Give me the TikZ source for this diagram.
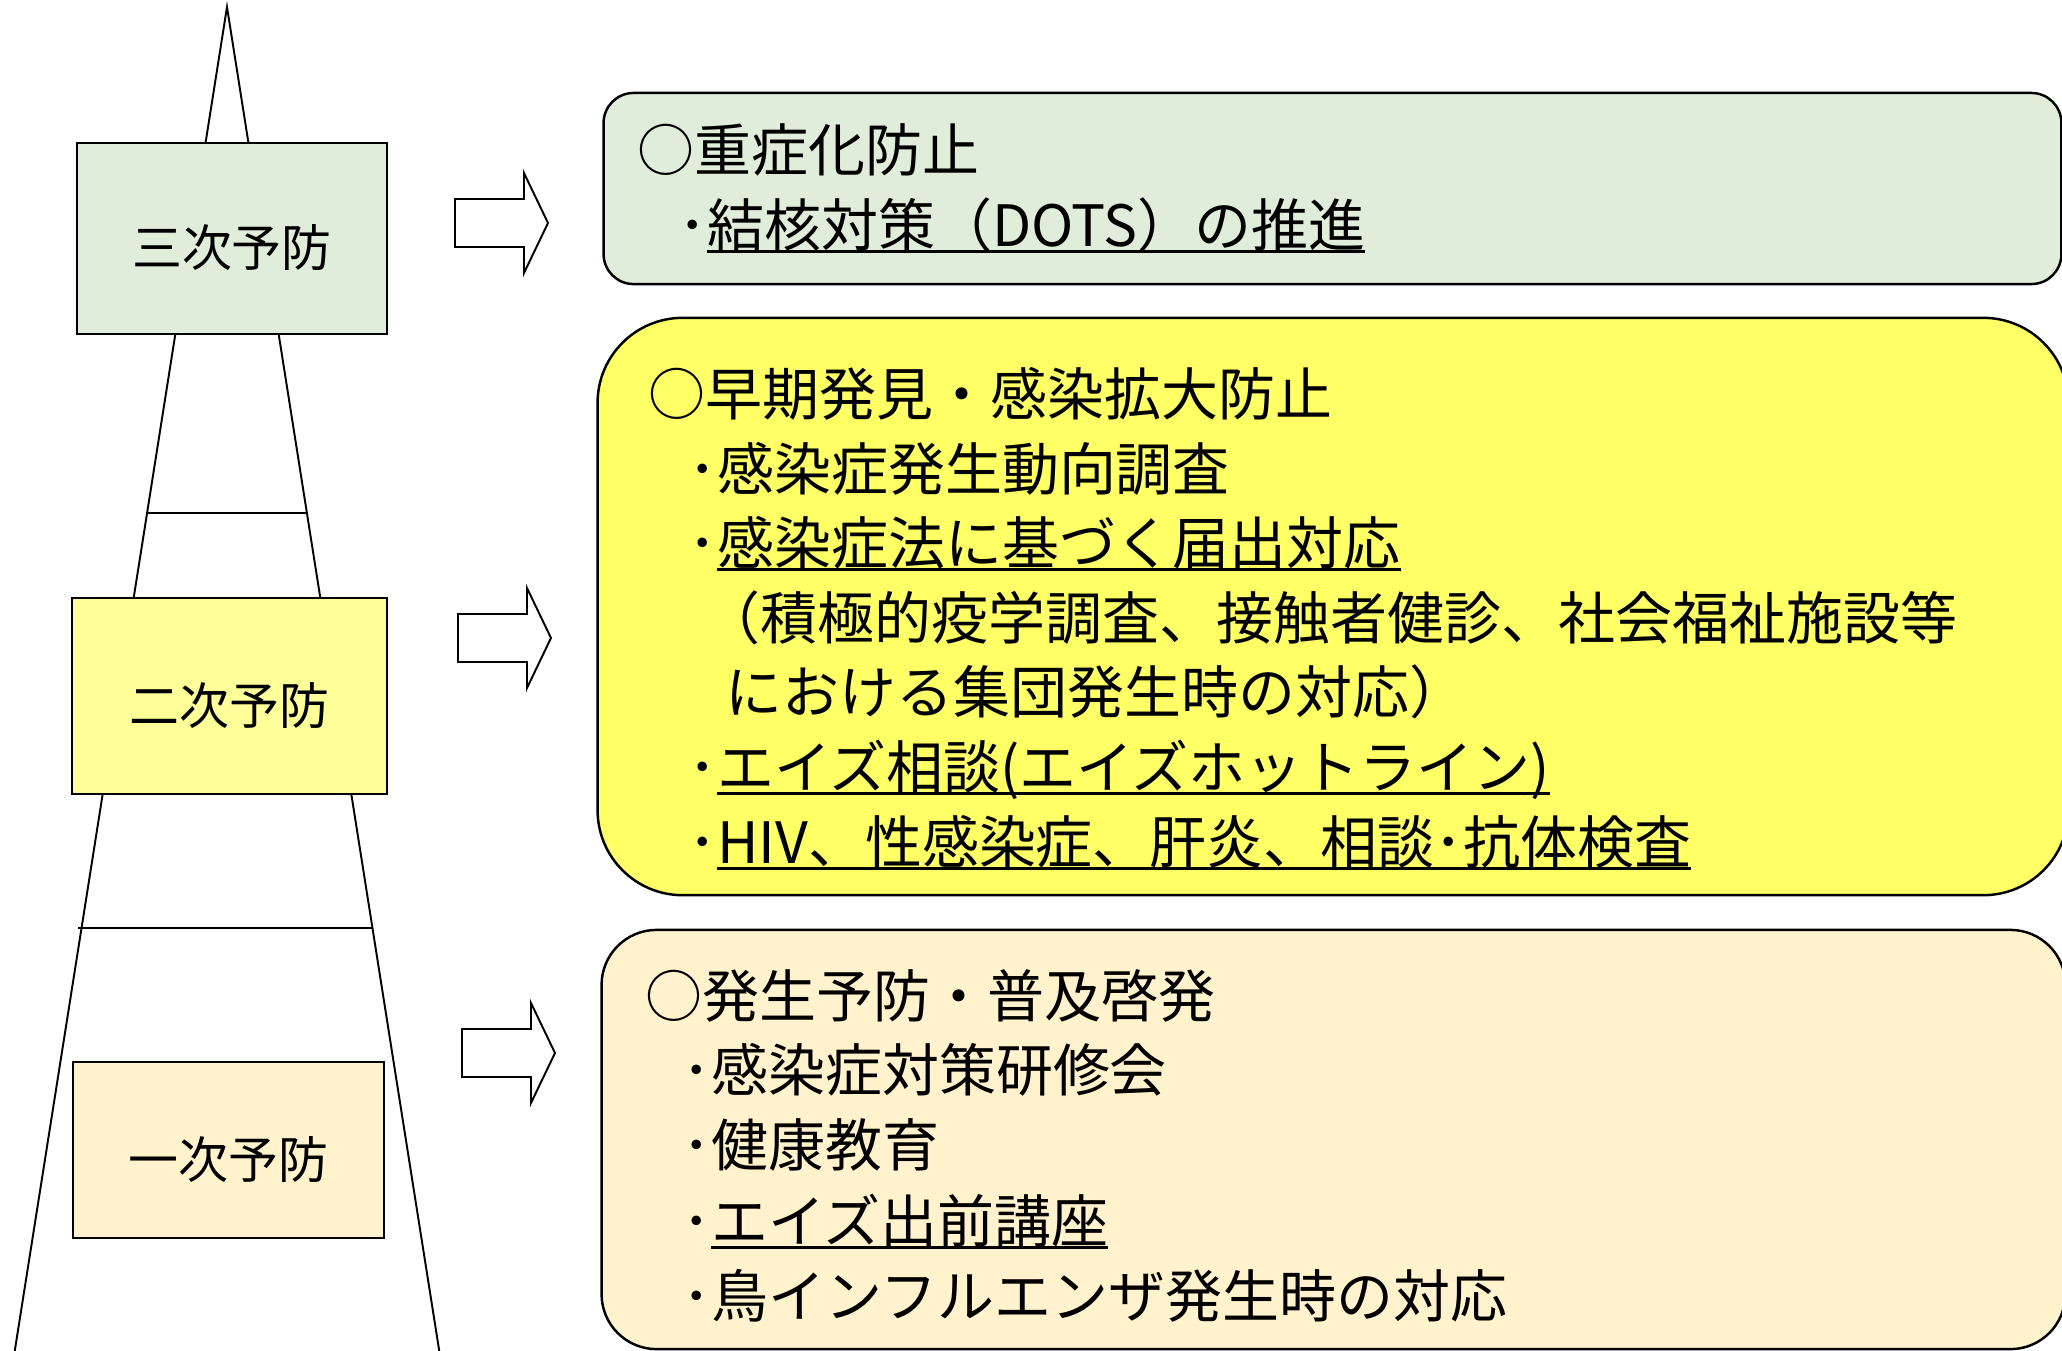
\documentclass[tikz,border=0pt]{standalone}
\usepackage{fontspec}
\setmainfont{Noto Sans CJK JP}
\usepackage{xcolor}
\usepackage{tikz}
\usetikzlibrary{positioning}

\definecolor{sageback}{HTML}{E0EDDA}
\definecolor{paleyellow}{HTML}{FFFF99}
\definecolor{lemonback}{HTML}{FFFF66}
\definecolor{creamback}{HTML}{FFF2CC}

\newcommand{\ulbar}[1]{\setbox0=\hbox{#1}\rlap{\rule[-1.9pt]{\wd0}{0.9pt}}\box0}

\begin{document}
\begin{tikzpicture}[
        x=0.01cm, y=-0.01cm,
        stage/.style={draw, line width=0.7pt, inner sep=0pt, text height=0.62cm, text depth=0.06cm, font=\fontsize{14.2pt}{17pt}\selectfont},
        panel/.style={draw, line width=0.7pt, inner sep=0pt},
        item/.style={anchor=base west, inner sep=0pt, font=\fontsize{16.2pt}{20pt}\selectfont},
        tower/.style={line width=0.55pt},
        blockarrow/.style={draw, line width=0.55pt, fill=white}
    ]
        \useasboundingbox (0,0) rectangle (2062,1350);
        \clip (0,0) rectangle (2062,1350);

        % Tower
        \coordinate (apex) at (227,7);
        \coordinate (footL) at (13,1362);
        \coordinate (footR) at (441,1362);
        \draw[tower] (footL) -- (apex) -- (footR);
        \draw[tower] (147,513) -- (306,513);
        \draw[tower] (78,928) -- (372,928);

        % Stages
        \node[stage, fill=sageback, minimum width=3.10cm, minimum height=1.91cm] (stage3) at (232,238.5) {三次予防};
        \node[stage, fill=paleyellow, minimum width=3.15cm, minimum height=1.96cm] (stage2) at (229.5,696) {二次予防};
        \node[stage, fill=creamback, minimum width=3.11cm, minimum height=1.76cm] (stage1) at (228.5,1150) {一次予防};

        % Block arrows
        \foreach \ax/\ay in {455/223, 458/638, 462/1053}
            \draw[blockarrow] (\ax,\ay-24) -- ++(69,0) -- ++(0,-26) -- ++(24,50) -- ++(-24,50) -- ++(0,-26) -- ++(-69,0) -- cycle;

        % Panels
        \node[panel, fill=sageback, rounded corners=0.3cm, minimum width=14.57cm, minimum height=1.91cm] (panel3) at (1332.5,188.5) {};
        \node[panel, fill=lemonback, rounded corners=0.85cm, minimum width=14.70cm, minimum height=5.77cm] (panel2) at (1333,606.5) {};
        \node[panel, fill=creamback, rounded corners=0.55cm, minimum width=14.63cm, minimum height=4.19cm] (panel1) at (1333.5,1139.5) {};

        % Tertiary items
        \node[item] (p3head) at (637,171) {○重症化防止};
        \node[item] (p3a) at (678,246) {･\ulbar{結核対策（DOTS）の推進}};

        % Secondary items
        \node[item] (p2head) at (648,415) {○早期発見・感染拡大防止};
        \node[item] (p2a) at (688,490) {･感染症発生動向調査};
        \node[item] (p2b) at (688,564) {･\ulbar{感染症法に基づく届出対応}};
        \node[item] (p2c) at (703,639) {（積極的疫学調査、接触者健診、社会福祉施設等};
        \node[item] (p2d) at (725,713) {における集団発生時の対応）};
        \node[item] (p2e) at (688,788) {･\ulbar{エイズ相談(エイズホットライン)}};
        \node[item] (p2f) at (688,863) {･\ulbar{HIV、性感染症、肝炎、相談･抗体検査}};

        % Primary items
        \node[item] (p1head) at (645,1017) {○発生予防・普及啓発};
        \node[item] (p1a) at (682,1091) {･感染症対策研修会};
        \node[item] (p1b) at (682,1166) {･健康教育};
        \node[item] (p1c) at (682,1242) {･\ulbar{エイズ出前講座}};
        \node[item] (p1d) at (682,1317) {･鳥インフルエンザ発生時の対応};
\end{tikzpicture}
\end{document}
